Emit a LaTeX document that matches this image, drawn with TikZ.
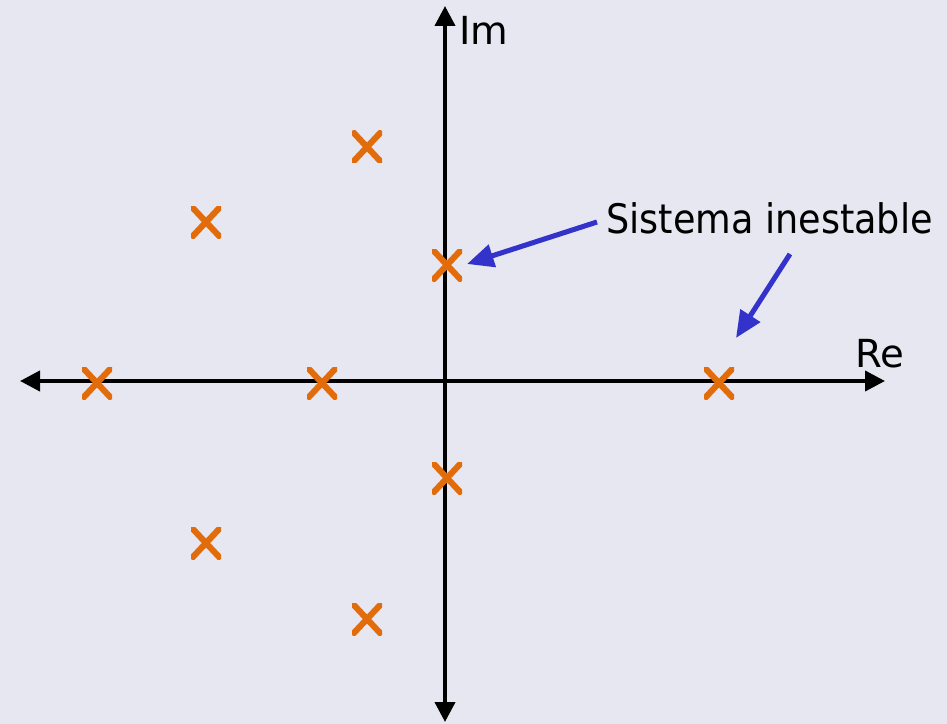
\documentclass[tikz,border=0pt]{standalone}
\usepackage{fontspec}
\setmainfont{DejaVu Sans}
\newfontfamily\condfont{DejaVu Sans Condensed}
\usetikzlibrary{arrows.meta}
\definecolor{bg}{HTML}{E7E7F2}
\definecolor{polec}{HTML}{E36C0A}
\definecolor{arrowblue}{HTML}{3333CC}
\begin{document}
\begin{tikzpicture}[x=0.75pt,y=-0.75pt,
  axis/.style={line width=3pt,-{Triangle[length=15pt,width=15pt]}},
  pole/.style={inner sep=0pt,minimum width=22.5pt,minimum height=24pt,
    path picture={\draw[polec,line width=4.6pt]
      (path picture bounding box.north west) -- (path picture bounding box.south east)
      (path picture bounding box.north east) -- (path picture bounding box.south west);}},
  lbl/.style={font=\fontsize{29}{29}\selectfont,inner sep=0pt,anchor=base west},
  note/.style={line width=3.8pt,draw=arrowblue,-{Triangle[length=20pt,width=17pt]}}]
\useasboundingbox[fill=bg] (0,0) rectangle (947,724);
\coordinate (xl) at (20,381);
\coordinate (xr) at (885,381);
\coordinate (yb) at (445,722);
\coordinate (yt) at (445,6);
\coordinate (o) at (445,381);
\draw[axis] (o) -- (xl);
\draw[axis] (o) -- (xr);
\draw[axis] (o) -- (yt);
\draw[axis] (o) -- (yb);
\node[lbl] (im) at (459,45) {Im};
\node[lbl] (re) at (855,367) {Re};
\node[pole] (p1) at (367,147) {};
\node[pole] (p2) at (206,222) {};
\node[pole] (p3) at (447,265) {};
\node[pole] (p4) at (97,383) {};
\node[pole] (p5) at (322,383) {};
\node[pole] (p6) at (719,383) {};
\node[pole] (p7) at (447,478) {};
\node[pole] (p8) at (206,543) {};
\node[pole] (p9) at (367,619) {};
\node[lbl,font=\condfont\fontsize{30.5}{30.5}\selectfont] (si) at (606,233) {Sistema inestable};
\coordinate (a1s) at (597,222);
\coordinate (a1e) at (467,264);
\coordinate (a2s) at (790,254);
\coordinate (a2e) at (736,338);
\draw[note] (a1s) -- (a1e);
\draw[note] (a2s) -- (a2e);
\end{tikzpicture}
\end{document}
